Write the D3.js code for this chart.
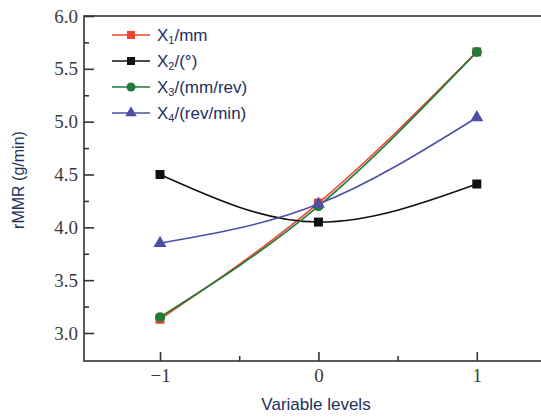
<!DOCTYPE html>
<html>
<head>
<meta charset="utf-8">
<script src="https://cdn.jsdelivr.net/npm/d3@7"></script>
<style>
  body { margin: 0; background: #fff; }
  svg { display: block; }
</style>
</head>
<body>
<div id="chart"></div>
<script>
// data
var levels = [-1, 0, 1]
var x1 = [3.13, 4.23, 5.66]
var x2 = [4.50, 4.05, 4.41]
var x3 = [3.15, 4.20, 5.66]
var x4 = [3.85, 4.22, 5.04]
var yTicks = [3.0, 3.5, 4.0, 4.5, 5.0, 5.5, 6.0]
var xTicks = [-1, 0, 1]

var series = [
    {name: 'X', sub: '1', unit: '/mm', values: x1, color: '#ee4433', marker: 'square'},
    {name: 'X', sub: '2', unit: '/(\u00b0)', values: x2, color: '#111111', marker: 'square'},
    {name: 'X', sub: '3', unit: '/(mm/rev)', values: x3, color: '#1f7d35', marker: 'circle'},
    {name: 'X', sub: '4', unit: '/(rev/min)', values: x4, color: '#4b4fa8', marker: 'triangle'}
]

var width = 541, height = 417
var textColor = '#24305c'

var svg = d3.select('#chart').append('svg')
    .attr('width', width)
    .attr('height', height)

var x = d3.scaleLinear().domain([-1.48, 1.5]).range([84, 556])
var y = d3.scaleLinear().domain([2.735, 6.0]).range([361, 16])

// ------- frame --------
svg.append('rect')
    .attr('x', x(-1.48)).attr('y', y(6.0))
    .attr('width', x(1.5) - x(-1.48)).attr('height', y(2.735) - y(6.0))
    .style('fill', 'none').style('stroke', '#333').style('stroke-width', 1.6)

// ------- axes (ticks inside) --------
var yAxis = d3.axisLeft(y).tickValues(yTicks).tickFormat(d3.format('.1f')).tickSizeInner(-10).tickSizeOuter(0).tickPadding(6)
var yMinor = d3.axisLeft(y).tickValues(d3.range(3.25, 6, 0.5)).tickFormat('').tickSizeInner(-5).tickSizeOuter(0)
var xAxis = d3.axisBottom(x).tickValues(xTicks).tickFormat(function(d) { return d < 0 ? '\u2212' + (-d) : d }).tickSizeInner(-9).tickSizeOuter(0).tickPadding(8)
var xMinor = d3.axisBottom(x).tickValues([-0.5, 0.5]).tickFormat('').tickSizeInner(-5).tickSizeOuter(0)

svg.append('g').attr('transform', 'translate(' + x(-1.48) + ',0)').call(yAxis)
svg.append('g').attr('transform', 'translate(' + x(-1.48) + ',0)').call(yMinor)
svg.append('g').attr('transform', 'translate(0,' + y(2.735) + ')').call(xAxis)
svg.append('g').attr('transform', 'translate(0,' + y(2.735) + ')').call(xMinor)

svg.selectAll('.domain').remove()
svg.selectAll('.tick line').style('stroke', '#333').style('stroke-width', 1.6)
svg.selectAll('.tick text')
    .style('font-family', '"Liberation Serif", "Times New Roman", serif')
    .style('font-size', '19px')
    .style('fill', '#3a3a3a')

// ------- axis titles --------
svg.append('text')
    .attr('transform', 'translate(24,' + 180 + ')rotate(-90)')
    .style('text-anchor', 'middle')
    .style('font-family', '"Liberation Sans", Arial, sans-serif')
    .style('font-size', '16px')
    .style('fill', textColor)
    .text('rMMR (g/min)')

svg.append('text')
    .attr('x', 316).attr('y', 410)
    .style('text-anchor', 'middle')
    .style('font-family', '"Liberation Sans", Arial, sans-serif')
    .style('font-size', '17px')
    .style('fill', textColor)
    .text('Variable levels')

// ------- lines --------
var line = d3.line()
    .x(function(d, i) { return x(levels[i]) })
    .y(function(d) { return y(d) })
    .curve(d3.curveMonotoneX)

function drawMarker(g, type, color, size) {
    if (type == 'square') {
        g.append('rect').attr('x', -size / 2).attr('y', -size / 2).attr('width', size).attr('height', size).style('fill', color)
    } else if (type == 'circle') {
        g.append('circle').attr('r', size / 2 + 0.5).style('fill', color)
    } else {
        g.append('path').attr('d', d3.symbol(d3.symbolTriangle, size * size * 0.9)()).style('fill', color)
    }
}

series.forEach(function(s) {
    svg.append('path')
        .attr('d', line(s.values))
        .style('fill', 'none')
        .style('stroke', s.color)
        .style('stroke-width', 1.6)
})

series.forEach(function(s) {
    s.values.forEach(function(v, i) {
        var g = svg.append('g').attr('transform', 'translate(' + x(levels[i]) + ',' + y(v) + ')')
        drawMarker(g, s.marker, s.color, 9)
    })
})

// ------- legend --------
var legend = svg.append('g')
series.forEach(function(s, i) {
    var ly = 35 + i * 26
    legend.append('line')
        .attr('x1', 112).attr('x2', 150).attr('y1', ly).attr('y2', ly)
        .style('stroke', s.color).style('stroke-width', 1.6)
    var g = legend.append('g').attr('transform', 'translate(131,' + ly + ')')
    drawMarker(g, s.marker, s.color, 8)
    var t = legend.append('text')
        .attr('x', 157).attr('y', ly + 6)
        .style('font-family', '"Liberation Sans", Arial, sans-serif')
        .style('font-size', '17px')
        .style('fill', textColor)
    t.append('tspan').text(s.name)
    t.append('tspan').attr('dy', 3).style('font-size', '11px').text(s.sub)
    t.append('tspan').attr('dy', -3).text(s.unit)
})
</script>
</body>
</html>
